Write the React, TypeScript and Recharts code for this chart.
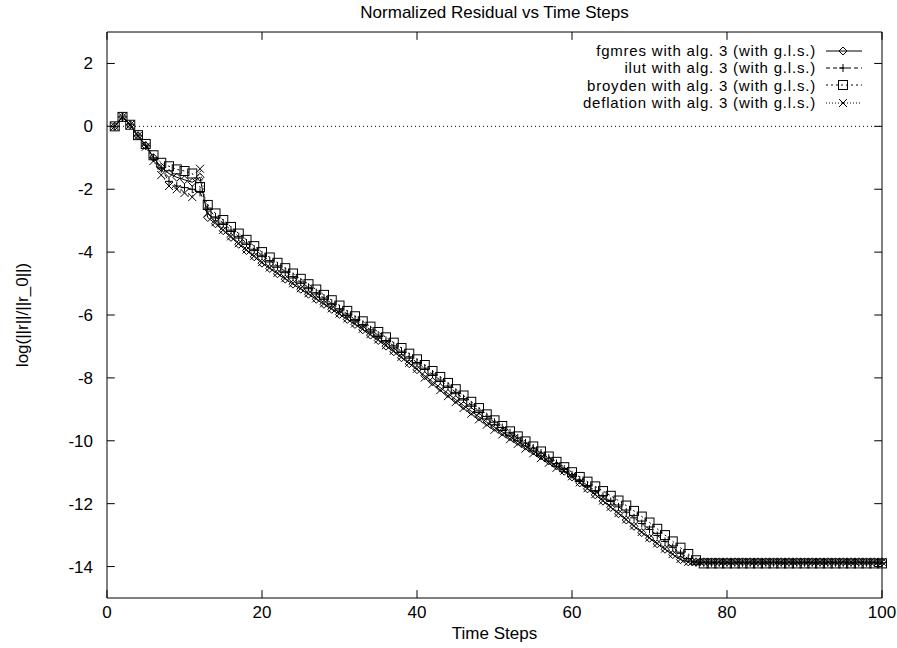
import React from "react";
import { LineChart, Line, XAxis, YAxis, ReferenceLine, Legend } from "recharts";

// time step index
const steps = [
  1, 2, 3, 4, 5, 6, 7, 8, 9, 10, 11, 12, 13, 14, 15, 16, 17, 18, 19, 20,
  21, 22, 23, 24, 25, 26, 27, 28, 29, 30, 31, 32, 33, 34, 35, 36, 37, 38, 39, 40,
  41, 42, 43, 44, 45, 46, 47, 48, 49, 50, 51, 52, 53, 54, 55, 56, 57, 58, 59, 60,
  61, 62, 63, 64, 65, 66, 67, 68, 69, 70, 71, 72, 73, 74, 75, 76, 77, 78, 79, 80,
  81, 82, 83, 84, 85, 86, 87, 88, 89, 90, 91, 92, 93, 94, 95, 96, 97, 98, 99, 100,
];

const fgmres = [
  0, 0.3, 0.05, -0.3, -0.62, -1.0, -1.3, -1.5, -1.62, -1.7,
  -1.78, -1.62, -2.9, -3.1, -3.32, -3.53, -3.75, -3.95, -4.15, -4.35,
  -4.52, -4.69, -4.86, -5.02, -5.18, -5.34, -5.5, -5.66, -5.82, -5.98,
  -6.14, -6.3, -6.47, -6.64, -6.81, -6.99, -7.17, -7.36, -7.55, -7.74,
  -7.93, -8.12, -8.31, -8.5, -8.69, -8.88, -9.06, -9.24, -9.41, -9.57,
  -9.72, -9.87, -10.02, -10.17, -10.32, -10.48, -10.64, -10.8, -10.97, -11.15,
  -11.34, -11.53, -11.72, -11.92, -12.12, -12.32, -12.52, -12.72, -12.92, -13.1,
  -13.28, -13.45, -13.62, -13.78, -13.85, -13.85, -13.85, -13.85, -13.85, -13.85,
  -13.85, -13.85, -13.85, -13.85, -13.85, -13.85, -13.85, -13.85, -13.85, -13.85,
  -13.85, -13.85, -13.85, -13.85, -13.85, -13.85, -13.85, -13.85, -13.85, -13.85,
];

const ilut = [
  0, 0.3, 0.05, -0.3, -0.6, -1.0, -1.35, -1.75, -1.9, -1.95,
  -2.0, -2.1, -2.6, -2.88, -3.08, -3.3, -3.51, -3.71, -3.91, -4.1,
  -4.27, -4.44, -4.61, -4.78, -4.95, -5.12, -5.29, -5.46, -5.63, -5.8,
  -5.97, -6.14, -6.3, -6.47, -6.64, -6.81, -6.98, -7.15, -7.33, -7.51,
  -7.69, -7.88, -8.07, -8.26, -8.46, -8.66, -8.86, -9.05, -9.23, -9.41,
  -9.58, -9.75, -9.91, -10.07, -10.23, -10.39, -10.55, -10.72, -10.9, -11.08,
  -11.25, -11.42, -11.59, -11.76, -11.93, -12.1, -12.27, -12.45, -12.63, -12.82,
  -13.01, -13.2, -13.39, -13.58, -13.75, -13.88, -13.88, -13.88, -13.88, -13.88,
  -13.88, -13.88, -13.88, -13.88, -13.88, -13.88, -13.88, -13.88, -13.88, -13.88,
  -13.88, -13.88, -13.88, -13.88, -13.88, -13.88, -13.88, -13.88, -13.88, -13.88,
];

const broyden = [
  0, 0.3, 0.05, -0.28, -0.56, -0.92, -1.16, -1.27, -1.37, -1.42,
  -1.5, -1.93, -2.5, -2.77, -2.98, -3.2, -3.41, -3.61, -3.81, -4.0,
  -4.17, -4.34, -4.51, -4.68, -4.85, -5.02, -5.19, -5.36, -5.53, -5.7,
  -5.87, -6.04, -6.2, -6.37, -6.54, -6.71, -6.88, -7.05, -7.23, -7.41,
  -7.59, -7.78, -7.97, -8.16, -8.36, -8.56, -8.76, -8.96, -9.16, -9.35,
  -9.53, -9.7, -9.86, -10.02, -10.18, -10.34, -10.5, -10.67, -10.84, -11.0,
  -11.15, -11.3, -11.45, -11.6, -11.75, -11.9, -12.06, -12.23, -12.41, -12.6,
  -12.8, -13.0, -13.2, -13.4, -13.6, -13.8, -13.9, -13.9, -13.9, -13.9,
  -13.9, -13.9, -13.9, -13.9, -13.9, -13.9, -13.9, -13.9, -13.9, -13.9,
  -13.9, -13.9, -13.9, -13.9, -13.9, -13.9, -13.9, -13.9, -13.9, -13.9,
];

const deflation = [
  0, 0.3, 0.05, -0.3, -0.65, -1.1, -1.55, -1.9, -2.0, -2.12,
  -2.25, -1.35, -2.75, -3.05, -3.29, -3.5, -3.72, -3.92, -4.12, -4.32,
  -4.49, -4.66, -4.83, -4.99, -5.15, -5.31, -5.47, -5.63, -5.79, -5.95,
  -6.11, -6.27, -6.44, -6.61, -6.78, -6.96, -7.14, -7.33, -7.52, -7.71,
  -7.99, -8.19, -8.39, -8.58, -8.77, -8.96, -9.14, -9.32, -9.49, -9.65,
  -9.8, -9.95, -10.1, -10.25, -10.4, -10.55, -10.7, -10.86, -10.95, -11.13,
  -11.32, -11.51, -11.7, -11.9, -12.1, -12.3, -12.5, -12.7, -12.9, -13.08,
  -13.26, -13.43, -13.6, -13.76, -13.85, -13.85, -13.85, -13.85, -13.85, -13.85,
  -13.85, -13.85, -13.85, -13.85, -13.85, -13.85, -13.85, -13.85, -13.85, -13.85,
  -13.85, -13.85, -13.85, -13.85, -13.85, -13.85, -13.85, -13.85, -13.85, -13.85,
];

const xTicks = [0, 20, 40, 60, 80, 100];
const yTicks = [2, 0, -2, -4, -6, -8, -10, -12, -14];
const xDomain = [0, 100];
const yDomain = [-15, 3];

const FONT = "'Liberation Sans', Arial, Helvetica, sans-serif";
const FS = 17;
const LEGEND_FS = 15;

type Shape = "diamond" | "plus" | "square" | "cross";

const series: { key: string; name: string; dash?: string; shape: Shape }[] = [
  { key: "fgmres", name: "fgmres with alg. 3 (with g.l.s.)", shape: "diamond" },
  { key: "ilut", name: "ilut with alg. 3 (with g.l.s.)", dash: "4 3", shape: "plus" },
  { key: "broyden", name: "broyden with alg. 3 (with g.l.s.)", dash: "2 3", shape: "square" },
  { key: "deflation", name: "deflation with alg. 3 (with g.l.s.)", dash: "1 2", shape: "cross" },
];

const data = steps.map((s, i) => ({
  step: s,
  fgmres: fgmres[i],
  ilut: ilut[i],
  broyden: broyden[i],
  deflation: deflation[i],
}));

// inward tick lengths in axis units (~8px)
const xTickLen = 1;
const yTickLen = 0.25;

function Marker({ shape, cx, cy }: { shape: Shape; cx: number; cy: number }) {
  const r = 4;
  const common = { fill: "none", stroke: "#000", strokeWidth: 1 };
  if (shape === "diamond")
    return <path d={`M${cx},${cy - r}L${cx + r},${cy}L${cx},${cy + r}L${cx - r},${cy}Z`} {...common} />;
  if (shape === "plus")
    return <path d={`M${cx - r},${cy}H${cx + r}M${cx},${cy - r}V${cy + r}`} {...common} />;
  if (shape === "square")
    return <rect x={cx - 4.5} y={cy - 4.5} width={9} height={9} {...common} />;
  return <path d={`M${cx - r},${cy - r}L${cx + r},${cy + r}M${cx + r},${cy - r}L${cx - r},${cy + r}`} {...common} />;
}

const makeDot = (shape: Shape) => (props: any) => {
  const { cx, cy, index } = props;
  if (cx == null || cy == null) return <g key={index} />;
  return <Marker key={index} shape={shape} cx={cx} cy={cy} />;
};

const LegendBox = () => (
  <div style={{ width: 382, fontFamily: FONT, fontSize: LEGEND_FS, color: "#000" }}>
    {series.map((s) => (
      <div
        key={s.key}
        style={{ display: "flex", justifyContent: "flex-end", alignItems: "center", height: 17.4 }}
      >
        <span style={{ whiteSpace: "nowrap", lineHeight: "17.4px", letterSpacing: 0.8 }}>{s.name}</span>
        <svg width={36} height={16} style={{ marginLeft: 10, overflow: "visible" }}>
          <line x1={0} y1={8} x2={36} y2={8} stroke="#000" strokeDasharray={s.dash} />
          <Marker shape={s.shape} cx={17} cy={8} />
        </svg>
      </div>
    ))}
  </div>
);

const XTitle = () => (
  <text x={494.5} y={639} textAnchor="middle" fontFamily={FONT} fontSize={FS} fill="#000">
    Time Steps
  </text>
);

const YTitle = () => (
  <text
    x={22}
    y={315}
    textAnchor="middle"
    dominantBaseline="central"
    transform="rotate(-90 22 315)"
    fontFamily={FONT}
    fontSize={FS}
    fill="#000"
  >
    log(||r||/||r_0||)
  </text>
);

const tickStyle = { fontFamily: FONT, fontSize: FS, fill: "#000" };

export default function App() {
  return (
    <div
      style={{
        position: "absolute",
        left: 0,
        top: 0,
        width: 897,
        height: 648,
        background: "#fff",
        fontFamily: FONT,
      }}
    >
      <div
        style={{
          position: "absolute",
          left: 294.5,
          width: 400,
          top: 3,
          textAlign: "center",
          fontSize: FS,
          lineHeight: "20px",
          color: "#000",
        }}
      >
        Normalized Residual vs Time Steps
      </div>
      <LineChart width={897} height={648} data={data} margin={{ top: 32, right: 15, bottom: 0, left: 0 }}>
        <XAxis
          dataKey="step"
          type="number"
          domain={xDomain}
          ticks={xTicks}
          interval={0}
          height={50}
          tickLine={false}
          tickSize={0}
          tickMargin={8}
          axisLine={{ stroke: "#000" }}
          tick={tickStyle}
          label={<XTitle />}
        />
        <XAxis
          xAxisId="tm"
          type="number"
          domain={xDomain}
          orientation="top"
          mirror
          height={7}
          tick={false}
          tickLine={false}
          axisLine={{ stroke: "#000" }}
        />
        <YAxis
          type="number"
          domain={yDomain}
          ticks={yTicks}
          interval={0}
          width={107}
          tickLine={false}
          tickSize={0}
          tickMargin={14}
          axisLine={{ stroke: "#000" }}
          tick={tickStyle}
          label={<YTitle />}
        />
        <YAxis
          yAxisId="rm"
          type="number"
          domain={yDomain}
          orientation="right"
          mirror
          width={7}
          tick={false}
          tickLine={false}
          axisLine={{ stroke: "#000" }}
        />
        {/* inward ticks on all four sides of the frame */}
        {xTicks.map((t) => (
          <ReferenceLine
            key={`xb${t}`}
            segment={[{ x: t, y: yDomain[0] }, { x: t, y: yDomain[0] + yTickLen }]}
            stroke="#000"
          />
        ))}
        {xTicks.map((t) => (
          <ReferenceLine
            key={`xt${t}`}
            segment={[{ x: t, y: yDomain[1] }, { x: t, y: yDomain[1] - yTickLen }]}
            stroke="#000"
          />
        ))}
        {yTicks.map((t) => (
          <ReferenceLine
            key={`yl${t}`}
            segment={[{ x: xDomain[0], y: t }, { x: xDomain[0] + xTickLen, y: t }]}
            stroke="#000"
          />
        ))}
        {yTicks.map((t) => (
          <ReferenceLine
            key={`yr${t}`}
            segment={[{ x: xDomain[1], y: t }, { x: xDomain[1] - xTickLen, y: t }]}
            stroke="#000"
          />
        ))}
        <ReferenceLine y={0} stroke="#000" strokeDasharray="1 3" />
        {series.map((s) => (
          <Line
            key={s.key}
            dataKey={s.key}
            name={s.name}
            type="linear"
            stroke="#000"
            strokeWidth={1}
            strokeDasharray={s.dash}
            dot={makeDot(s.shape)}
            activeDot={false}
            isAnimationActive={false}
          />
        ))}
        <Legend
          layout="vertical"
          align="center"
          verticalAlign="middle"
          content={<LegendBox />}
          wrapperStyle={{ position: "absolute", left: 480, top: 42, width: 382 }}
        />
      </LineChart>
    </div>
  );
}
